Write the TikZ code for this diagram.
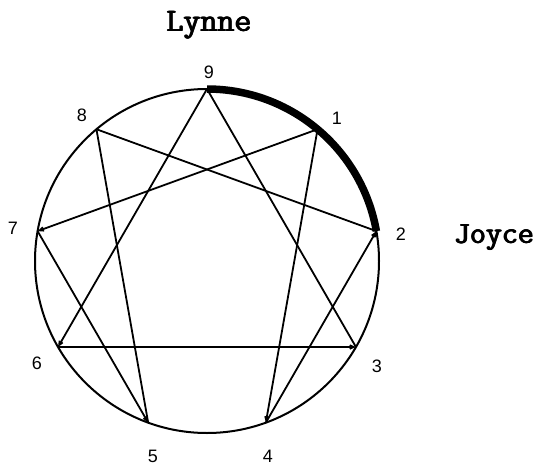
\documentclass[tikz,border=0pt]{standalone}
\usepackage{fontspec}
\setmainfont{Liberation Sans}
\usetikzlibrary{arrows.meta,calc}
\newcommand\heavytext[1]{\rlap{#1}\kern0.45pt\rlap{#1}\kern0.45pt\rlap{#1}\kern0.45pt#1}
\begin{document}
\begin{tikzpicture}[x=1pt,y=-1pt,
  ring/.style={line width=2pt},
  chord/.style={line width=1.8pt},
  arr/.style={chord,-{Straight Barb[length=4pt,width=3.5pt]}},
  num/.style={font=\fontsize{18}{18}\selectfont,inner sep=0pt},
  person/.style={font=\ttfamily\fontsize{33}{33}\selectfont,inner sep=0pt}]
\useasboundingbox (0,0) rectangle (544,466);
\coordinate (C) at (207,261);
\draw[ring] (C) circle (172);
\foreach \n/\a in {9/90,1/50,2/10,3/-30,4/-70,5/-110,6/-150,7/170,8/130}{
  \coordinate (p\n) at ($(C)+({172*cos(\a)},{-172*sin(\a)})$);
}
% chords
\draw[arr] (p9) -- (p6);
\draw[arr] (p6) -- (p3);
\draw[chord] (p3) -- (p9);
\draw[arr] (p1) -- (p4);
\draw[arr] (p4) -- (p2);
\draw[chord] (p2) -- (p8);
\draw[chord] (p8) -- (p5);
\draw[arr] (p7) -- (p5);
\draw[arr] (p1) -- (p7);
% thick arc 9 -> 2
\draw[line width=7.5pt] (p9) arc[start angle=-90,end angle=-10,radius=172];
% numbers
\node[num] (n9) at (209,72) {9};
\node[num] (n1) at (337,118) {1};
\node[num] (n2) at (401,234) {2};
\node[num] (n3) at (377,366) {3};
\node[num] (n4) at (268,456) {4};
\node[num] (n5) at (153,456) {5};
\node[num] (n6) at (37,363) {6};
\node[num] (n7) at (13,228) {7};
\node[num] (n8) at (82,115) {8};
% names
\node[person] (lynne) at (209,25) {\heavytext{Lynne}};
\node[person,font=\ttfamily\fontsize{31}{31}\selectfont] (joyce) at (494,238) {\heavytext{Joyce}};
\end{tikzpicture}
\end{document}
